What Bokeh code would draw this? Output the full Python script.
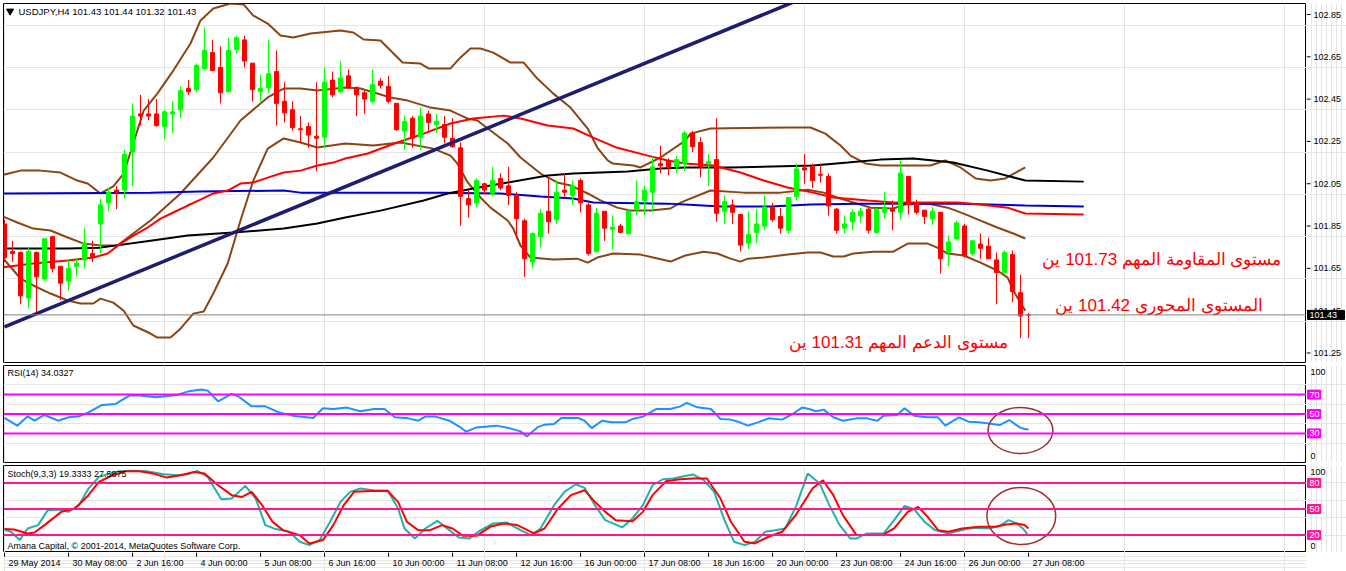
from bokeh.plotting import figure
from bokeh.layouts import column, row
from bokeh.models import Range1d, Span, ColumnDataSource
from bokeh.core.properties import value
from bokeh.embed import file_html
from bokeh.resources import INLINE

# ---------------- data ----------------
time_labels = ["29 May 2014", "30 May 08:00", "2 Jun 16:00", "4 Jun 00:00", "5 Jun 08:00",
               "6 Jun 16:00", "10 Jun 00:00", "11 Jun 08:00", "12 Jun 16:00", "16 Jun 00:00",
               "17 Jun 08:00", "18 Jun 16:00", "20 Jun 00:00", "23 Jun 08:00", "24 Jun 16:00",
               "26 Jun 00:00", "27 Jun 08:00"]
time_label_bars = [0, 8, 16, 24, 32, 40, 48, 56, 64, 72, 80, 88, 96, 104, 112, 120, 128]

opens = [101.86, 101.73, 101.725, 101.51, 101.725, 101.60, 101.80, 101.66, 101.59, 101.66,
         101.69, 101.72, 101.86, 101.96, 102.02, 102.02, 102.20, 102.38, 102.38, 102.38,
         102.32, 102.38, 102.40, 102.50, 102.495, 102.595, 102.67, 102.60, 102.485, 102.685,
         102.73, 102.62, 102.485, 102.505, 102.58, 102.44, 102.40, 102.31, 102.32, 102.275,
         102.27, 102.54, 102.485, 102.56, 102.505, 102.48, 102.44, 102.535, 102.51, 102.43,
         102.30, 102.36, 102.27, 102.38, 102.33, 102.33, 102.265, 102.22, 101.98, 101.96,
         102.05, 102.005, 102.075, 102.04, 101.995, 101.875, 101.68, 101.80, 101.92, 101.88,
         102.02, 101.995, 102.065, 101.95, 101.73, 101.92, 101.835, 101.85, 101.815, 101.93,
         101.97, 102.01, 102.145, 102.16, 102.13, 102.145, 102.29, 102.245, 102.145, 102.165,
         101.92, 101.95, 101.905, 101.77, 101.82, 101.85, 101.94, 101.895, 101.83, 101.99,
         102.125, 102.13, 102.095, 102.085, 101.93, 101.84, 101.87, 101.90, 101.93, 101.82,
         101.915, 101.93, 101.915, 102.085, 101.955, 101.925, 101.885, 101.915, 101.725, 101.79,
         101.85, 101.72, 101.765, 101.755, 101.69, 101.63, 101.715, 101.535, 101.43]
highs = [101.88, 101.78, 101.73, 101.75, 101.73, 101.79, 101.80, 101.66, 101.69, 101.70,
         101.84, 101.78, 101.98, 102.03, 102.04, 102.21, 102.43, 102.47, 102.45, 102.45,
         102.40, 102.44, 102.51, 102.54, 102.62, 102.79, 102.73, 102.70, 102.74, 102.75,
         102.75, 102.62, 102.565, 102.73, 102.68, 102.53, 102.44, 102.37, 102.34, 102.53,
         102.60, 102.58, 102.63, 102.59, 102.51, 102.49, 102.59, 102.55, 102.56, 102.43,
         102.37, 102.37, 102.41, 102.395, 102.38, 102.37, 102.36, 102.245, 102.02, 102.075,
         102.055, 102.13, 102.10, 102.13, 102.01, 101.885, 101.82, 101.93, 102.08, 102.065,
         102.10, 102.065, 102.075, 101.96, 101.935, 101.92, 101.90, 101.86, 101.93, 102.065,
         102.04, 102.18, 102.23, 102.17, 102.18, 102.30, 102.30, 102.27, 102.19, 102.36,
         101.995, 101.975, 101.905, 101.92, 101.93, 101.995, 101.96, 101.935, 101.985, 102.145,
         102.19, 102.145, 102.145, 102.10, 101.935, 101.90, 101.93, 101.935, 101.935, 101.935,
         102.01, 101.97, 102.16, 102.085, 101.975, 101.925, 101.94, 101.915, 101.805, 101.875,
         101.86, 101.785, 101.815, 101.795, 101.725, 101.735, 101.735, 101.62, 101.44]
lows = [101.68, 101.68, 101.48, 101.46, 101.44, 101.59, 101.63, 101.50, 101.545, 101.61,
        101.65, 101.68, 101.72, 101.92, 101.93, 101.98, 102.04, 102.325, 102.35, 102.32,
        102.26, 102.29, 102.36, 102.47, 102.485, 102.585, 102.585, 102.43, 102.485, 102.665,
        102.60, 102.44, 102.44, 102.48, 102.325, 102.34, 102.30, 102.245, 102.22, 102.11,
        102.22, 102.46, 102.48, 102.50, 102.37, 102.38, 102.43, 102.50, 102.43, 102.30,
        102.21, 102.22, 102.21, 102.30, 102.29, 102.24, 102.22, 101.85, 101.89, 101.94,
        102.00, 101.99, 102.02, 101.95, 101.79, 101.61, 101.65, 101.75, 101.815, 101.86,
        101.985, 101.95, 101.915, 101.71, 101.725, 101.78, 101.74, 101.815, 101.81, 101.90,
        101.90, 101.92, 102.10, 102.09, 102.10, 102.11, 102.20, 102.08, 102.04, 101.87,
        101.86, 101.86, 101.73, 101.74, 101.77, 101.83, 101.87, 101.815, 101.815, 101.97,
        102.05, 102.03, 102.055, 101.90, 101.815, 101.815, 101.83, 101.865, 101.815, 101.815,
        101.885, 101.83, 101.88, 101.905, 101.905, 101.86, 101.855, 101.625, 101.66, 101.78,
        101.70, 101.71, 101.695, 101.695, 101.48, 101.625, 101.49, 101.32, 101.32]
closes = [101.70, 101.72, 101.52, 101.73, 101.61, 101.79, 101.65, 101.58, 101.65, 101.675,
          101.77, 101.70, 101.95, 102.01, 102.01, 102.19, 102.37, 102.37, 102.37, 102.325,
          102.39, 102.39, 102.49, 102.485, 102.61, 102.68, 102.585, 102.48, 102.68, 102.74,
          102.63, 102.495, 102.50, 102.57, 102.43, 102.385, 102.315, 102.305, 102.28, 102.265,
          102.53, 102.47, 102.55, 102.505, 102.47, 102.45, 102.52, 102.515, 102.44, 102.305,
          102.345, 102.265, 102.37, 102.34, 102.345, 102.27, 102.225, 101.99, 101.95, 102.065,
          102.02, 102.065, 102.03, 101.995, 101.885, 101.695, 101.815, 101.91, 101.87, 102.01,
          102.01, 102.04, 101.96, 101.72, 101.91, 101.84, 101.845, 101.82, 101.92, 101.965,
          102.02, 102.13, 102.135, 102.13, 102.165, 102.29, 102.225, 102.13, 102.155, 101.91,
          101.965, 101.915, 101.76, 101.81, 101.86, 101.94, 101.88, 101.84, 101.985, 102.12,
          102.115, 102.065, 102.09, 101.945, 101.83, 101.86, 101.915, 101.92, 101.83, 101.93,
          101.935, 101.92, 102.10, 101.95, 101.915, 101.895, 101.92, 101.695, 101.775, 101.865,
          101.71, 101.78, 101.745, 101.695, 101.63, 101.725, 101.54, 101.425, 101.43]

# Bollinger bands (brown), sampled along the drawn curves: (bar position, price)
bb_up_x = [-0.5, 2.0, 4.5, 7.0, 9.1, 10.4, 12.0, 13.6, 14.9, 16.1, 17.4, 19.1, 21.1, 23.25, 24.5, 26.1,
           28.25, 29.9, 31.1, 32.9, 34.5, 36.1, 38.25, 42.0, 43.6, 44.9, 47.0, 48.25, 49.75, 52.0, 53.0,
           55.75, 57.0, 58.25, 59.5, 61.1, 63.25, 64.9, 66.6, 68.6, 70.75, 72.9, 74.1, 75.4, 76.0, 78.6,
           79.5, 82.0, 85.1, 85.75, 88.25, 98.25, 100.75, 102.6, 104.5, 105.75, 107.6, 109.5, 115.75,
           117.6, 119.5, 121.4, 123.25, 125.1, 126.4, 127.6]
bb_up_y = [102.089, 102.112, 102.112, 102.103, 102.065, 102.051, 102.004, 102.037, 102.098, 102.240,
           102.396, 102.476, 102.585, 102.713, 102.822, 102.878, 102.902, 102.897, 102.845, 102.807,
           102.751, 102.741, 102.760, 102.774, 102.765, 102.732, 102.727, 102.680, 102.623, 102.618,
           102.595, 102.595, 102.647, 102.689, 102.689, 102.670, 102.623, 102.623, 102.547, 102.476,
           102.410, 102.311, 102.221, 102.160, 102.146, 102.136, 102.127, 102.174, 102.254, 102.287,
           102.311, 102.316, 102.316, 102.287, 102.231, 102.183, 102.146, 102.136, 102.136, 102.160,
           102.127, 102.075, 102.065, 102.075, 102.103, 102.127]
bb_mid_x = [-0.5, 1.6, 3.6, 5.75, 7.9, 9.9, 12.0, 14.1, 18.25, 22.0, 26.1, 29.5, 32.9, 34.9, 37.0, 39.1,
            42.6, 44.5, 48.25, 50.4, 53.25, 55.75, 57.9, 59.1, 60.75, 62.9, 64.5, 67.0, 69.1, 70.75, 72.9,
            74.5, 76.6, 78.25, 80.75, 83.25, 84.5, 88.25, 92.4, 97.0, 100.4, 102.4, 104.1, 106.1, 108.25,
            111.1, 112.9, 115.4, 117.9, 119.9, 122.0, 124.1, 126.1, 127.6]
bb_mid_y = [101.900, 101.867, 101.838, 101.829, 101.796, 101.767, 101.758, 101.758, 101.876, 102.004,
            102.174, 102.349, 102.458, 102.500, 102.500, 102.491, 102.505, 102.500, 102.458, 102.443,
            102.410, 102.396, 102.358, 102.349, 102.302, 102.240, 102.174, 102.098, 102.056, 102.042,
            102.004, 101.971, 101.937, 101.923, 101.923, 101.933, 101.961, 102.018, 102.008, 102.008,
            102.022, 102.008, 101.985, 101.961, 101.937, 101.933, 101.956, 101.956, 101.937, 101.909,
            101.876, 101.843, 101.815, 101.791]
bb_low_x = [-0.5, 2.0, 3.6, 5.75, 7.9, 9.5, 11.1, 12.0, 13.6, 14.9, 16.1, 18.25, 19.1, 20.75, 22.0, 23.6,
            24.9, 26.1, 27.9, 29.5, 31.1, 32.9, 34.9, 37.0, 39.1, 42.6, 46.1, 49.5, 53.6, 55.75, 56.6,
            57.9, 59.5, 60.75, 62.9, 63.6, 64.5, 65.75, 68.6, 71.6, 72.9, 74.1, 76.1, 79.5, 83.25, 85.1,
            87.4, 89.1, 90.75, 92.0, 92.9, 94.9, 97.9, 100.4, 102.0, 103.6, 104.9, 106.1, 108.6, 111.1,
            112.9, 115.4, 116.6, 117.9, 119.9, 122.0, 124.1, 125.4, 126.1, 127.6]
bb_low_y = [101.711, 101.602, 101.569, 101.531, 101.498, 101.484, 101.484, 101.507, 101.488, 101.450,
            101.380, 101.342, 101.323, 101.323, 101.365, 101.436, 101.446, 101.531, 101.673, 101.876,
            102.065, 102.216, 102.264, 102.245, 102.221, 102.240, 102.231, 102.245, 102.216, 102.183,
            102.146, 102.056, 101.985, 101.937, 101.876, 101.838, 101.758, 101.701, 101.692, 101.696,
            101.677, 101.701, 101.720, 101.715, 101.682, 101.711, 101.729, 101.720, 101.696, 101.682,
            101.696, 101.701, 101.715, 101.725, 101.725, 101.706, 101.706, 101.720, 101.729, 101.729,
            101.767, 101.767, 101.748, 101.720, 101.711, 101.677, 101.640, 101.606, 101.545, 101.450]

# moving averages
ma_red_x = [-0.5, 3.6, 7.9, 11.1, 12.9, 14.5, 16.1, 17.9, 19.5, 21.1, 22.9, 24.5, 26.1, 27.9, 29.5, 31.1,
            32.9, 34.9, 37.0, 39.1, 41.1, 42.6, 45.4, 49.1, 52.4, 55.75, 58.6, 62.4, 64.5, 67.9, 71.1,
            73.6, 76.5, 80.4, 82.9, 85.1, 88.6, 92.0, 94.9, 97.9, 101.1, 103.6, 107.9, 111.1, 119.1,
            122.0, 125.4, 127.6, 134.9]
ma_red_y = [101.654, 101.673, 101.687, 101.701, 101.720, 101.767, 101.805, 101.843, 101.885, 101.914,
            101.947, 101.975, 102.004, 102.018, 102.051, 102.056, 102.079, 102.103, 102.112, 102.136,
            102.150, 102.169, 102.193, 102.245, 102.287, 102.335, 102.358, 102.372, 102.358, 102.325,
            102.311, 102.268, 102.221, 102.183, 102.160, 102.146, 102.136, 102.103, 102.065, 102.032,
            102.008, 101.985, 101.971, 101.961, 101.961, 101.952, 101.937, 101.909, 101.905]
ma_black_x = [-0.5, 7.9, 12.0, 18.25, 22.9, 28.6, 34.9, 39.1, 42.6, 47.0, 52.4, 55.4, 58.6, 62.9, 67.9,
              71.1, 77.9, 82.0, 85.1, 90.75, 101.1, 105.4, 109.5, 113.6, 118.6, 122.9, 127.6, 134.9]
ma_black_y = [101.744, 101.744, 101.748, 101.781, 101.805, 101.819, 101.838, 101.862, 101.890, 101.923,
              101.971, 102.004, 102.027, 102.056, 102.089, 102.098, 102.108, 102.122, 102.127, 102.127,
              102.136, 102.150, 102.164, 102.169, 102.150, 102.112, 102.065, 102.060]
ma_blue_x = [-0.5, 18.25, 24.5, 34.9, 37.0, 54.5, 62.0, 67.0, 71.1, 73.6, 82.9, 85.1, 89.5, 95.75,
             100.75, 107.0, 119.5, 127.6, 134.9]
ma_blue_y = [102.004, 102.008, 102.013, 102.018, 102.008, 102.008, 102.004, 101.990, 101.980, 101.961,
             101.956, 101.952, 101.942, 101.942, 101.952, 101.956, 101.956, 101.947, 101.942]

trend_x = [0, 100]
trend_y = [101.373, 102.930]

last_price = 101.43
price_ticks = [101.25, 101.45, 101.65, 101.85, 102.05, 102.25, 102.45, 102.65, 102.85]

notes = ["مستوى المقاومة المهم 101.73 ين", "المستوى المحوري 101.42 ين", "مستوى الدعم المهم 101.31 ين"]
notes_x = [159.6, 157.25, 125.4]
notes_y = [101.69, 101.474, 101.30]

# RSI(14)
rsi_x = [0, 1.6, 2.9, 3.75, 5.0, 6.7, 8.0, 9.3, 10.5, 12.2, 13.9, 15.6, 16.9, 19.0, 21.6, 22.9, 24.6,
         25.4, 26.7, 28.4, 29.2, 30.9, 32.6, 34.3, 36.0, 38.6, 39.8, 41.1, 42.8, 44.5, 46.2, 47.5, 48.8,
         50.5, 51.7, 52.6, 53.9, 55.6, 56.8, 57.7, 59.0, 61.5, 63.2, 64.5, 65.3, 66.6, 67.5, 68.7, 69.6,
         71.7, 72.5, 73.4, 74.7, 75.9, 77.6, 78.5, 79.8, 81.5, 83.2, 84.4, 85.3, 86.6, 88.3, 89.5, 90.8,
         91.7, 92.9, 94.2, 95.5, 97.2, 98.5, 99.7, 100.6, 101.4, 102.4, 103.6, 104.8, 106.5, 107.8,
         109.1, 109.9, 111.6, 112.5, 113.7, 115.4, 116.7, 117.6, 119.3, 120.5, 121.8, 123.5, 124.4,
         125.6, 126.9, 127.5, 128.0]
rsi_v = [45.9, 38.0, 47.6, 43.1, 49.0, 43.1, 46.6, 47.6, 51.7, 59.3, 60.4, 69.0, 69.0, 67.2, 69.7, 73.1,
         75.2, 74.1, 63.1, 70.7, 68.3, 57.9, 57.9, 51.7, 48.3, 45.9, 55.9, 55.2, 56.6, 52.8, 55.2, 55.2,
         46.6, 45.5, 43.1, 47.3, 47.3, 43.1, 37.3, 31.8, 36.2, 38.0, 35.2, 32.1, 26.9, 36.2, 39.0, 39.7,
         45.9, 45.9, 43.1, 35.5, 43.1, 41.4, 41.4, 44.8, 47.3, 55.2, 55.2, 57.6, 61.4, 56.9, 55.2, 44.8,
         44.2, 42.1, 38.0, 41.4, 45.5, 44.2, 50.0, 56.6, 55.2, 52.8, 54.5, 46.6, 43.1, 45.5, 45.5, 43.1,
         48.3, 49.0, 55.9, 48.3, 46.6, 46.6, 38.0, 46.6, 42.1, 41.4, 39.7, 38.6, 43.8, 36.2, 34.5, 34.0]
rsi_levels = [70, 50, 30]

# Stochastic(9,3,3)
stk_x = [0, 0.8, 1.9, 2.9, 4.2, 5.4, 6.7, 8.0, 9.3, 10.5, 11.8, 13.1, 14.4, 16.1, 17.8, 19.9, 21.6, 22.9,
         24.1, 25.4, 27.1, 28.4, 30.1, 31.4, 32.6, 33.9, 35.6, 36.9, 38.1, 39.4, 40.7, 42.0, 43.2, 44.5,
         46.2, 47.9, 49.2, 50.0, 51.3, 52.6, 54.1, 55.6, 56.8, 58.1, 59.4, 61.1, 62.8, 64.5, 65.8, 67.0,
         68.7, 70.0, 71.4, 72.5, 73.8, 75.1, 77.2, 78.5, 79.8, 81.0, 82.3, 83.6, 84.9, 86.1, 87.4, 88.7,
         90.0, 91.2, 92.5, 93.8, 95.1, 96.3, 97.6, 99.0, 100.4, 101.9, 103.1, 104.4, 105.7, 106.5, 107.8,
         109.9, 111.2, 112.5, 113.7, 115.0, 116.3, 118.0, 119.3, 120.5, 121.8, 123.1, 124.4, 125.5, 126.5,
         127.3, 128.0]
stk_v = [26.5, 23.8, 14.3, 27.6, 31.5, 48.7, 49.4, 46.7, 54.4, 73.5, 86.9, 90.7, 93.4, 94.1, 93.4, 89.9,
         88.8, 89.9, 93.8, 86.9, 61.3, 62.0, 76.6, 62.0, 31.5, 26.9, 23.8, 12.3, 8.5, 14.3, 35.3, 58.2,
         69.7, 73.5, 71.2, 71.2, 50.6, 27.6, 16.2, 27.6, 36.4, 25.7, 17.3, 16.2, 25.0, 33.4, 34.5, 25.7,
         20.0, 27.6, 54.4, 69.7, 78.5, 74.3, 54.4, 37.2, 28.8, 39.1, 54.4, 77.3, 84.2, 85.0, 87.6, 89.6,
         83.1, 69.7, 37.2, 12.3, 8.5, 12.3, 23.8, 25.7, 27.6, 54.4, 90.7, 79.2, 54.4, 31.5, 16.2, 16.2,
         21.9, 21.9, 37.2, 53.6, 49.8, 35.3, 25.7, 21.9, 25.0, 27.6, 28.4, 27.6, 30.7, 37.2, 33.4, 27.6,
         19.3]
sig_x = [0, 1.2, 2.9, 3.75, 5.0, 7.1, 8.8, 10.5, 11.8, 13.5, 15.2, 16.9, 18.6, 20.3, 22.0, 23.7, 25.0,
         26.7, 28.4, 29.7, 30.9, 32.2, 33.5, 34.8, 36.9, 38.1, 39.8, 41.1, 42.4, 43.7, 45.8, 47.9, 49.2,
         50.3, 51.7, 53.2, 54.7, 56.0, 57.3, 59.0, 60.7, 62.4, 64.1, 66.2, 67.5, 69.2, 70.8, 72.5, 73.8,
         75.1, 76.4, 78.5, 79.8, 81.0, 82.7, 84.4, 86.1, 87.8, 89.5, 90.8, 92.5, 93.8, 95.5, 97.2, 98.9,
         101.0, 102.3, 103.6, 104.8, 106.5, 108.2, 109.9, 111.2, 112.9, 114.2, 115.4, 116.7, 118.0,
         119.7, 121.8, 123.9, 125.2, 126.5, 127.5, 128.0]
sig_v = [26.9, 26.5, 21.9, 23.0, 31.5, 46.7, 50.6, 65.9, 81.1, 88.8, 93.4, 93.4, 90.7, 86.1, 88.8, 92.6,
         90.7, 77.3, 65.9, 63.9, 69.7, 54.4, 35.3, 25.7, 20.0, 10.4, 14.3, 31.5, 54.4, 69.7, 70.8, 70.8,
         58.2, 35.3, 25.7, 25.7, 31.5, 27.6, 19.2, 19.2, 29.5, 33.4, 31.5, 21.9, 27.6, 50.6, 65.9, 71.6,
         58.2, 46.7, 37.2, 36.0, 46.7, 65.9, 81.9, 84.2, 85.0, 85.0, 62.0, 35.3, 12.3, 10.4, 18.1, 23.8,
         42.9, 73.5, 83.1, 65.9, 42.9, 20.0, 20.0, 20.7, 27.6, 46.7, 52.5, 41.0, 25.7, 23.8, 27.6, 29.5,
         29.5, 32.2, 33.4, 31.5, 27.6]
stoch_levels = [80, 50, 20]

# highlighted ellipses (center bar, center value, width in bars, height in units)
rsi_ring = (127.0, 33.0, 8.1, 47.5)
stoch_ring = (127.1, 42.0, 8.6, 65.5)

# ---------------- drawing ----------------
FONT = "Liberation Sans"
XR = Range1d(-0.125, 162.75)
SIDE_X = Range1d(0, 40)   # pixel-like coordinates of the right-hand scale strip


def make_fig(height, yr, top, bottom):
    p = figure(width=1306, height=height, x_range=XR, y_range=yr, output_backend="svg",
               toolbar_location=None, x_axis_location=None, y_axis_location=None,
               min_border_left=3, min_border_right=0, min_border_top=top, min_border_bottom=bottom)
    p.outline_line_color = "black"
    p.outline_line_width = 1
    p.background_fill_color = "white"
    p.border_fill_color = "white"
    return p


def make_side(height, yr, top, bottom):
    s = figure(width=40, height=height, x_range=SIDE_X, y_range=yr, output_backend="svg",
               toolbar_location=None, x_axis_location=None, y_axis_location=None,
               min_border_left=0, min_border_right=0, min_border_top=top, min_border_bottom=bottom)
    s.outline_line_color = None
    s.background_fill_color = "white"
    s.border_fill_color = "white"
    return s


def side_text(s, ys, texts, x=4, color="black"):
    s.text(x=[x] * len(ys), y=ys, text=texts, text_color=color, text_font=value(FONT),
           text_font_size="9px", text_align="left", text_baseline="middle")


# ---- main price panel ----
p1 = make_fig(363, Range1d(101.205, 102.902), 3, 1)
s1 = make_side(363, p1.y_range, 3, 1)

idx = list(range(len(opens)))
colors = ["#00ff00" if c > o else "#ff0000" for o, c in zip(opens, closes)]
src = ColumnDataSource(dict(
    x=idx, high=highs, low=lows,
    top=[max(o, c) for o, c in zip(opens, closes)],
    bottom=[min(o, c) for o, c in zip(opens, closes)],
    color=colors))

p1.add_layout(Span(location=last_price, dimension="width", line_color="#808080", line_width=1))

p1.line(bb_up_x, bb_up_y, line_color="#8b4513", line_width=2)
p1.line(bb_mid_x, bb_mid_y, line_color="#8b4513", line_width=2)
p1.line(bb_low_x, bb_low_y, line_color="#8b4513", line_width=2)
p1.line(ma_blue_x, ma_blue_y, line_color="#0000cd", line_width=2)
p1.line(ma_black_x, ma_black_y, line_color="black", line_width=2)
p1.line(ma_red_x, ma_red_y, line_color="#ff0000", line_width=2)

p1.segment(x0="x", y0="low", x1="x", y1="high", line_color="color", line_width=1, source=src)
p1.vbar(x="x", width=0.5, top="top", bottom="bottom", fill_color="color", line_color="color",
        line_width=1, source=src)

p1.line(trend_x, trend_y, line_color="#1f1d6e", line_width=3.5)

p1.text(x=notes_x, y=notes_y, text=notes, text_color="#ff0000", text_font=value(FONT),
        text_font_size="17px", text_align="right", text_baseline="middle")

p1.scatter(x=[0.7], y=[102.866], marker="inverted_triangle", size=7, color="black")
p1.text(x=[1.75], y=[102.864], text=["USDJPY,H4  101.43 101.44 101.32 101.43"], text_color="black",
        text_font=value(FONT), text_font_size="9.5px", text_align="left", text_baseline="middle")

# price scale on the right
s1.segment(x0=[0] * len(price_ticks), y0=price_ticks, x1=[4] * len(price_ticks), y1=price_ticks,
           line_color="black", line_width=1)
side_text(s1, price_ticks, ["%.2f" % t for t in price_ticks], x=7)
s1.segment(x0=[0], y0=[last_price], x1=[2], y1=[last_price], line_color="#808080", line_width=1)
s1.rect(x=[19.5], y=[last_price], width=37, height=9, height_units="screen", fill_color="black",
        line_color="black")
side_text(s1, [last_price], ["%.2f" % last_price], x=3, color="white")

# ---- RSI panel ----
p2 = make_fig(100, Range1d(0, 100), 2, 1)
s2 = make_side(100, p2.y_range, 2, 1)
for lv in rsi_levels:
    p2.add_layout(Span(location=lv, dimension="width", line_color="#ff00ff", line_width=2))
p2.line(rsi_x, rsi_v, line_color="#1e90ff", line_width=2)
p2.ellipse(x=[rsi_ring[0]], y=[rsi_ring[1]], width=rsi_ring[2], height=rsi_ring[3],
           fill_color=None, line_color="#a82a2a", line_width=1.5)
p2.text(x=[0.375], y=[91.8], text=["RSI(14) 34.0327"], text_color="black", text_font=value(FONT),
        text_font_size="9px", text_align="left", text_baseline="middle")
s2.rect(x=[7.5] * 3, y=rsi_levels, width=13, height=9, height_units="screen", fill_color="#ff00ff",
        line_color="#ff00ff")
side_text(s2, rsi_levels, [str(v) for v in rsi_levels], x=3, color="white")
side_text(s2, [92.8, 6.2], ["100", "0"], x=4)

# ---- Stochastic panel ----
p3 = make_fig(89, Range1d(0, 100), 2, 0)
s3 = make_side(89, p3.y_range, 2, 0)
for lv in stoch_levels:
    p3.add_layout(Span(location=lv, dimension="width", line_color="#ff1493", line_width=2))
p3.line(stk_x, stk_v, line_color="#20b2aa", line_width=2)
p3.line(sig_x, sig_v, line_color="#ff0000", line_width=2)
p3.ellipse(x=[stoch_ring[0]], y=[stoch_ring[1]], width=stoch_ring[2], height=stoch_ring[3],
           fill_color=None, line_color="#a82a2a", line_width=1.5)
p3.text(x=[0.375], y=[90.8], text=["Stoch(9,3,3) 19.3333 27.5875"], text_color="black",
        text_font=value(FONT), text_font_size="9px", text_align="left", text_baseline="middle")
p3.text(x=[0.375], y=[6.9], text=["Amana Capital, © 2001-2014, MetaQuotes Software Corp."],
        text_color="black", text_font=value(FONT), text_font_size="9px", text_align="left",
        text_baseline="middle")
s3.rect(x=[7.5] * 3, y=stoch_levels, width=13, height=9, height_units="screen", fill_color="#ff1493",
        line_color="#ff1493")
side_text(s3, stoch_levels, [str(v) for v in stoch_levels], x=3, color="white")
side_text(s3, [93.1, 6.9], ["100", "0"], x=4)

# ---- time axis strip ----
p4 = figure(width=1346, height=19, x_range=XR, y_range=Range1d(0, 1), output_backend="svg",
            toolbar_location=None, x_axis_location=None, y_axis_location=None,
            min_border_left=3, min_border_right=40, min_border_top=0, min_border_bottom=0)
p4.outline_line_color = None
p4.background_fill_color = "white"
p4.border_fill_color = "white"
p4.segment(x0=time_label_bars, y0=[1.0] * len(time_label_bars), x1=time_label_bars,
           y1=[0.78] * len(time_label_bars), line_color="black", line_width=1)
p4.text(x=[b + 0.5 for b in time_label_bars], y=[0.47] * len(time_label_bars), text=time_labels,
        text_color="black", text_font=value(FONT), text_font_size="9px", text_align="left",
        text_baseline="middle")

layout = column(row(p1, s1, spacing=0), row(p2, s2, spacing=0), row(p3, s3, spacing=0), p4, spacing=0)
open("out.html", "w").write(file_html(layout, INLINE))
